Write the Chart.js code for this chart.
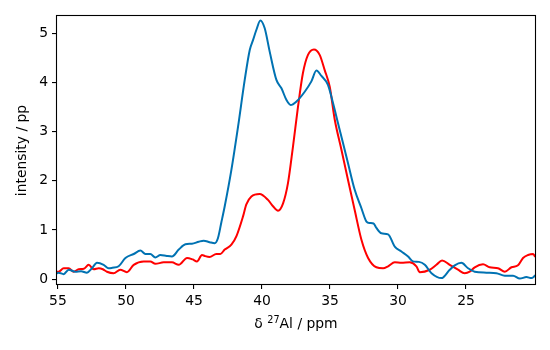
<!DOCTYPE html>
<html>
<head>
<meta charset="utf-8">
<script src="https://cdn.jsdelivr.net/npm/chart.js@4"></script>
<style>
  html, body { margin: 0; padding: 0; background: #fff; }
  #wrap { width: 550px; height: 350px; }
</style>
</head>
<body>
<div id="wrap"><canvas id="c" width="550" height="350"></canvas></div>
<script>
// 27Al spectra: chemical shift (ppm) and intensity per trace
const blueShift = [55.07, 54.95, 54.58, 54.21, 53.72, 53.3, 52.87, 52.5, 52.13, 51.64, 51.27, 51.0, 50.54, 50.04, 49.43, 48.94, 48.57, 48.21, 47.84, 47.47, 47.0, 46.62, 46.12, 45.63, 45.15, 44.65, 44.29, 43.85, 43.48, 43.24, 42.99, 42.74, 42.25, 41.76, 41.27, 40.9, 40.66, 40.41, 40.12, 39.8, 39.43, 38.94, 38.57, 38.2, 37.89, 37.47, 36.86, 36.37, 36.0, 35.63, 35.15, 34.78, 34.41, 34.04, 33.68, 33.19, 32.69, 32.32, 32.08, 31.8, 31.59, 31.22, 30.73, 30.24, 29.75, 29.26, 28.9, 28.46, 28.03, 27.54, 26.81, 26.2, 25.83, 25.34, 24.85, 24.36, 23.5, 22.77, 22.15, 21.54, 21.05, 20.56, 20.19, 19.93];
const blueIntensity = [0.12, 0.13, 0.10, 0.19, 0.15, 0.16, 0.13, 0.22, 0.33, 0.29, 0.22, 0.23, 0.26, 0.43, 0.51, 0.58, 0.51, 0.51, 0.44, 0.49, 0.47, 0.46, 0.60, 0.71, 0.72, 0.76, 0.78, 0.75, 0.73, 0.83, 1.15, 1.48, 2.22, 3.10, 4.05, 4.66, 4.86, 5.07, 5.26, 5.10, 4.62, 4.05, 3.88, 3.64, 3.54, 3.61, 3.81, 4.02, 4.24, 4.13, 3.95, 3.58, 3.17, 2.76, 2.36, 1.82, 1.44, 1.17, 1.14, 1.13, 1.04, 0.93, 0.91, 0.66, 0.56, 0.46, 0.36, 0.35, 0.29, 0.12, 0.02, 0.19, 0.28, 0.33, 0.22, 0.15, 0.13, 0.12, 0.07, 0.07, 0.01, 0.04, 0.02, 0.07];

const redShift = [55.07, 54.95, 54.58, 54.21, 53.85, 53.48, 53.1, 52.74, 52.37, 52.0, 51.7, 51.4, 50.91, 50.42, 49.93, 49.43, 48.7, 48.21, 47.84, 47.23, 46.62, 46.12, 45.51, 45.1, 44.78, 44.41, 44.21, 43.85, 43.36, 43.06, 42.74, 42.25, 41.87, 41.4, 41.15, 40.78, 40.17, 39.56, 39.19, 38.82, 38.45, 38.09, 37.72, 37.35, 36.99, 36.62, 36.18, 35.76, 35.39, 35.02, 34.65, 34.16, 33.68, 33.19, 32.69, 32.2, 31.59, 31.1, 30.73, 30.24, 29.75, 29.14, 28.65, 28.4, 27.67, 27.18, 26.76, 26.2, 25.59, 25.1, 24.73, 24.36, 23.75, 23.26, 22.65, 22.15, 21.66, 21.18, 20.81, 20.44, 20.07, 19.93];
const redIntensity = [0.15, 0.15, 0.22, 0.22, 0.15, 0.20, 0.21, 0.29, 0.20, 0.22, 0.20, 0.15, 0.12, 0.19, 0.14, 0.29, 0.36, 0.36, 0.31, 0.34, 0.34, 0.29, 0.43, 0.40, 0.36, 0.49, 0.47, 0.45, 0.51, 0.51, 0.60, 0.70, 0.88, 1.27, 1.52, 1.68, 1.73, 1.61, 1.48, 1.39, 1.54, 1.95, 2.70, 3.51, 4.19, 4.56, 4.67, 4.56, 4.25, 3.91, 3.24, 2.63, 2.02, 1.41, 0.80, 0.43, 0.24, 0.22, 0.26, 0.34, 0.33, 0.34, 0.26, 0.14, 0.19, 0.29, 0.38, 0.29, 0.19, 0.12, 0.15, 0.24, 0.30, 0.24, 0.22, 0.15, 0.24, 0.28, 0.43, 0.49, 0.51, 0.46];

const xTicks = [55, 50, 45, 40, 35, 30, 25];
const yTicks = [0, 1, 2, 3, 4, 5];
const xRange = [19.93, 55.07];
const yRange = [-0.1, 5.37];

const FONT = 'DejaVu Sans';
const FSIZE = 13.9;

function pairs(xs, ys) {
  return xs.map((x, i) => ({ x: x, y: ys[i] }));
}

// Frame around the plotting area plus the two axis titles
const framePlugin = {
  id: 'frame',
  afterDatasetsDraw(chart) {
    const { ctx, chartArea: a } = chart;
    ctx.save();
    ctx.strokeStyle = '#000';
    ctx.lineWidth = 1.1;
    ctx.strokeRect(Math.round(a.left) - 0.5, Math.round(a.top) + 0.5,
                   Math.round(a.right - a.left) + 1, Math.round(a.bottom - a.top));
    ctx.restore();
  },
  afterDraw(chart) {
    const { ctx, chartArea: a } = chart;
    ctx.save();
    ctx.fillStyle = '#000';
    // y title
    ctx.font = FSIZE + 'px "' + FONT + '"';
    ctx.textAlign = 'center';
    ctx.textBaseline = 'middle';
    ctx.translate(22, (a.top + a.bottom) / 2 + 1);
    ctx.rotate(-Math.PI / 2);
    ctx.fillText('intensity / pp', 0, 0);
    ctx.restore();

    // x title with superscript mass number
    ctx.save();
    ctx.fillStyle = '#000';
    ctx.textBaseline = 'alphabetic';
    ctx.textAlign = 'left';
    const base = FSIZE + 'px "' + FONT + '"';
    const sup = (FSIZE * 0.7).toFixed(1) + 'px "' + FONT + '"';
    const p1 = 'δ ', p2 = '27', p3 = 'Al / ppm';
    ctx.font = base; const w1 = ctx.measureText(p1).width;
    ctx.font = sup;  const w2 = ctx.measureText(p2).width;
    ctx.font = base; const w3 = ctx.measureText(p3).width;
    const total = w1 + w2 + w3;
    let x = (a.left + a.right) / 2 - total / 2;
    const yb = 328;
    ctx.font = base; ctx.fillText(p1, x, yb); x += w1;
    ctx.font = sup;  ctx.fillText(p2, x, yb - 5.5); x += w2;
    ctx.font = base; ctx.fillText(p3, x, yb);
    ctx.restore();
  }
};

const lineStyle = {
  showLine: true,
  pointRadius: 0,
  pointHoverRadius: 0,
  borderWidth: 2,
  fill: false,
  cubicInterpolationMode: 'monotone',
  borderJoinStyle: 'round',
  borderCapStyle: 'round'
};

new Chart(document.getElementById('c'), {
  type: 'scatter',
  data: {
    datasets: [
      Object.assign({ data: pairs(blueShift, blueIntensity), borderColor: '#0072b2', backgroundColor: '#0072b2' }, lineStyle),
      Object.assign({ data: pairs(redShift, redIntensity), borderColor: '#ff0000', backgroundColor: '#ff0000' }, lineStyle)
    ]
  },
  options: {
    responsive: false,
    animation: false,
    events: [],
    layout: { padding: { left: 0, top: 15, right: 15, bottom: 0 } },
    plugins: { legend: { display: false }, tooltip: { enabled: false } },
    scales: {
      x: {
        type: 'linear',
        reverse: true,
        min: xRange[0],
        max: xRange[1],
        afterBuildTicks(s) { s.ticks = xTicks.map(v => ({ value: v })); },
        afterFit(s) { s.height = 66; },
        grid: { display: true, drawOnChartArea: false, drawTicks: true, tickLength: 5, color: '#000', lineWidth: 1.1 },
        border: { display: false },
        ticks: { color: '#000', padding: 4, font: { family: FONT, size: FSIZE }, maxRotation: 0, autoSkip: false }
      },
      y: {
        type: 'linear',
        min: yRange[0],
        max: yRange[1],
        afterBuildTicks(s) { s.ticks = yTicks.map(v => ({ value: v })); },
        afterFit(s) { s.width = 57; },
        grid: { display: true, drawOnChartArea: false, drawTicks: true, tickLength: 5, color: '#000', lineWidth: 1.1 },
        border: { display: false },
        ticks: { color: '#000', padding: 4, font: { family: FONT, size: FSIZE }, autoSkip: false }
      }
    }
  },
  plugins: [framePlugin]
});
</script>
</body>
</html>
